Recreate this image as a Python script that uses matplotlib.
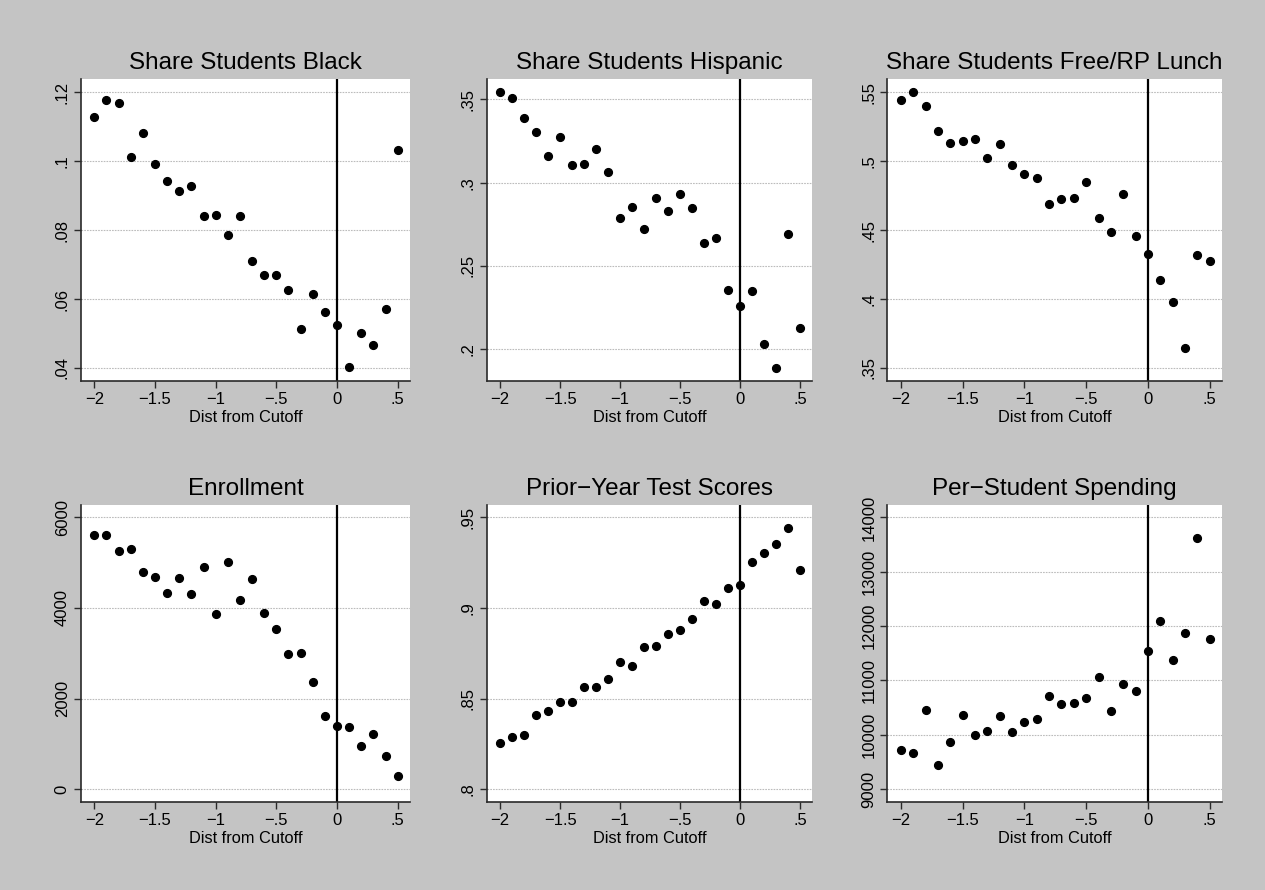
import matplotlib

matplotlib.use("Agg")
import matplotlib.pyplot as plt
from matplotlib.ticker import FuncFormatter

plt.rcParams["font.family"] = ["Liberation Sans", "DejaVu Sans"]

# bins of distance from the cutoff
dist = [-2.0, -1.9, -1.8, -1.7, -1.6, -1.5, -1.4, -1.3, -1.2, -1.1, -1.0, -0.9, -0.8,
        -0.7, -0.6, -0.5, -0.4, -0.3, -0.2, -0.1, 0.0, 0.1, 0.2, 0.3, 0.4, 0.5]

share_black = [0.1127, 0.1178, 0.1168, 0.1013, 0.1081, 0.0992, 0.0943, 0.0912, 0.0927,
               0.0841, 0.0844, 0.0786, 0.0841, 0.0709, 0.0670, 0.0670, 0.0627, 0.0513,
               0.0615, 0.0563, 0.0524, 0.0404, 0.0500, 0.0467, 0.0571, 0.1032]
share_hispanic = [0.3544, 0.3506, 0.3391, 0.3306, 0.3159, 0.3276, 0.3105, 0.3113, 0.3200,
                  0.3067, 0.2790, 0.2855, 0.2720, 0.2907, 0.2829, 0.2935, 0.2851, 0.2639,
                  0.2667, 0.2357, 0.2260, 0.2347, 0.2030, 0.1887, 0.2693, 0.2125]
share_lunch = [0.5442, 0.5500, 0.5403, 0.5217, 0.5135, 0.5145, 0.5162, 0.5022, 0.5126,
               0.4973, 0.4908, 0.4878, 0.4687, 0.4724, 0.4736, 0.4846, 0.4585, 0.4485,
               0.4763, 0.4459, 0.4325, 0.4135, 0.3978, 0.3647, 0.4320, 0.4274]
enrollment = [5603, 5611, 5251, 5310, 4796, 4678, 4333, 4671, 4318, 4899, 3875, 5024, 4184,
              4646, 3890, 3545, 2979, 3016, 2375, 1618, 1396, 1366, 962, 1220, 727, 294]
test_scores = [0.8252, 0.8289, 0.8300, 0.8407, 0.8432, 0.8482, 0.8480, 0.8563, 0.8566,
               0.8608, 0.8704, 0.8682, 0.8785, 0.8790, 0.8858, 0.8881, 0.8939, 0.9037,
               0.9020, 0.9108, 0.9127, 0.9252, 0.9305, 0.9351, 0.9441, 0.9208]
spending = [9713, 9658, 10458, 9437, 9872, 10360, 10000, 10073, 10348, 10049, 10244, 10293,
            10709, 10562, 10587, 10678, 11061, 10434, 10927, 10804, 11544, 12097, 11367,
            11878, 13628, 11762]

titles = ["Share Students Black", "Share Students Hispanic", "Share Students Free/RP Lunch",
          "Enrollment", "Prior\u2212Year Test Scores", "Per\u2212Student Spending"]
series = [share_black, share_hispanic, share_lunch, enrollment, test_scores, spending]
y_ticks = [
    [0.04, 0.06, 0.08, 0.10, 0.12],
    [0.20, 0.25, 0.30, 0.35],
    [0.35, 0.40, 0.45, 0.50, 0.55],
    [0, 2000, 4000, 6000],
    [0.80, 0.85, 0.90, 0.95],
    [9000, 10000, 11000, 12000, 13000, 14000],
]
x_ticks = [-2, -1.5, -1, -0.5, 0, 0.5]

# panel boxes in figure fractions: (left, width) per column, (bottom, height) per row
columns = [(0.064, 0.260), (0.385, 0.257), (0.7015, 0.2645)]
rows = [(0.572, 0.339), (0.099, 0.334)]


def stata_label(value, _pos=None):
    text = f"{value:g}"
    if text.startswith("0."):
        text = text[1:]
    elif text.startswith("-0."):
        text = "-" + text[2:]
    return text.replace("-", "\u2212")


fig = plt.figure(figsize=(12.65, 8.9), dpi=100)
fig.patch.set_facecolor("#c4c4c4")

for i, (title, values, ticks) in enumerate(zip(titles, series, y_ticks)):
    left, width = columns[i % 3]
    bottom, height = rows[i // 3]
    ax = fig.add_axes([left, bottom, width, height])
    ax.set_facecolor("white")

    ax.yaxis.grid(True, color="#bcbcbc", linewidth=0.8, linestyle=(0, (1.5, 1)))
    ax.set_axisbelow(True)
    ax.axvline(0, color="black", linewidth=1.6, zorder=2)
    ax.plot(dist, values, "o", color="black", markersize=5.6, zorder=3)

    lo = min(min(values), ticks[0])
    hi = max(max(values), ticks[-1])
    pad = 0.047 * (hi - lo)
    ax.set_ylim(lo - pad, hi + pad)
    ax.set_xlim(-2.11, 0.6)
    ax.set_yticks(ticks)
    ax.set_xticks(x_ticks)
    ax.xaxis.set_major_formatter(FuncFormatter(stata_label))
    ax.yaxis.set_major_formatter(FuncFormatter(stata_label))

    for side in ["top", "right"]:
        ax.spines[side].set_visible(False)
    for side in ["left", "bottom"]:
        ax.spines[side].set_color("#2a2a2a")
        ax.spines[side].set_linewidth(1.2)
    ax.tick_params(direction="out", length=5, width=1.0, color="#2a2a2a",
                   labelsize=12, pad=3)
    for label in ax.get_yticklabels():
        label.set_rotation(90)
        label.set_verticalalignment("center")

    ax.set_title(title, fontsize=17.5, pad=7)
    ax.set_xlabel("Dist from Cutoff", fontsize=11.8, labelpad=2)

fig.savefig("out.png", dpi=100, facecolor=fig.get_facecolor())
